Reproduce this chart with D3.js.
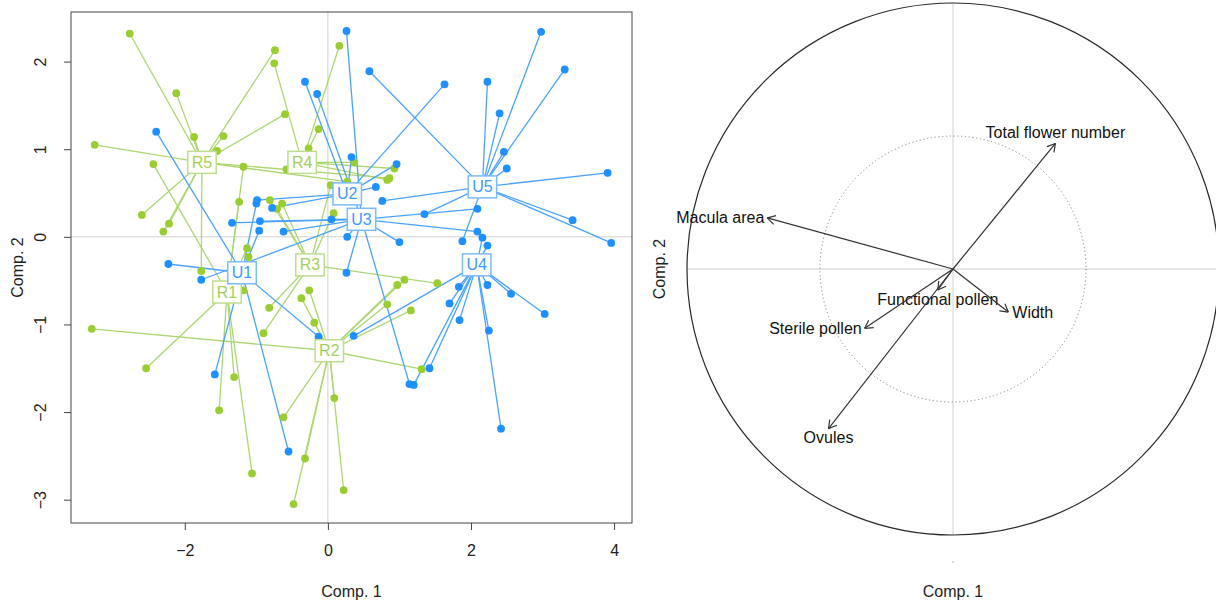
<!DOCTYPE html>
<html><head><meta charset="utf-8">
<script src="https://cdn.jsdelivr.net/npm/d3@7"></script>
<style>body{margin:0;background:#fff}svg{display:block;font-family:"Liberation Sans",Arial,sans-serif}</style>
</head><body><svg id="c" width="1216" height="605"></svg>
<script>
// ---- Left panel: individual scores by group ----
const groups = ["U1","U2","U3","U4","U5","R1","R2","R3","R4","R5"];
const groupType = ["U","U","U","U","U","R","R","R","R","R"];
const centroidX = [-1.20, 0.27, 0.47, 2.08, 2.16, -1.41, 0.02, -0.25, -0.36, -1.76];
const centroidY = [-0.41, 0.49, 0.20, -0.32, 0.57, -0.63, -1.30, -0.32, 0.85, 0.85];

const U1x = [-2.40,-2.23,-1.58,-0.55,-0.13,-1.00,-0.96];
const U1y = [1.20,-0.31,-1.57,-2.45,-1.14,0.38,0.07];
const U2x = [-0.32,1.63,-0.99,-0.78,0.67,0.33,0.96];
const U2y = [1.77,1.74,0.42,0.33,0.57,0.91,0.83];
const U3x = [0.26,-1.34,-1.77,-0.95,0.05,0.27,0.26,1.00,1.14,2.09,2.09,-0.62,-0.15];
const U3y = [2.35,0.16,-0.49,0.18,0.20,0.00,-0.41,-0.06,-1.68,0.32,0.06,0.06,1.63];
const U4x = [2.23,2.56,3.03,1.83,1.70,1.84,2.25,2.42,2.16,2.23,1.42,1.20,0.36];
const U4y = [-0.55,-0.65,-0.88,-0.57,-0.76,-0.95,-1.07,-2.19,-0.01,-0.10,-1.50,-1.69,-1.13];
const U5x = [0.58,2.23,2.98,3.31,2.40,2.46,2.50,3.91,3.42,3.96,1.88,0.76,1.35];
const U5y = [1.89,1.77,2.34,1.91,1.41,0.97,0.78,0.73,0.19,-0.07,-0.05,0.41,0.26];
const R1x = [-2.54,-1.31,-1.52,-1.06,-2.44,-1.18,-1.24,-1.13,-1.11,-1.18];
const R1y = [-1.50,-1.60,-1.98,-2.70,0.83,0.80,0.40,-0.13,-0.23,-0.61];
const R2x = [-3.30,-0.48,0.22,-0.32,-0.62,0.09,1.31,1.16,0.83,1.07,0.97,-0.26,-0.37,-0.19];
const R2y = [-1.05,-3.05,-2.89,-2.53,-2.06,-1.84,-1.51,-0.84,-0.77,-0.49,-0.55,-0.61,-0.70,-0.98];
const R3x = [1.53,0.08,-0.64,-0.71,-0.81,-0.82,-0.90,0.04];
const R3y = [-0.53,0.27,0.38,0.32,0.42,-0.81,-1.10,0.59];
const R4x = [-0.75,0.16,-0.13,-0.27,0.37,0.93,-0.58,0.83];
const R4y = [1.98,2.18,1.23,1.01,0.85,0.78,0.77,0.65];
const R5x = [-2.77,-2.12,-3.26,-1.87,-1.46,-1.55,-0.74,-0.60,-2.60,-2.22,-2.30,-1.77,0.86,0.27];
const R5y = [2.32,1.64,1.05,1.14,1.15,0.98,2.13,1.40,0.25,0.15,0.06,-0.39,0.67,0.63];

const groupX = [U1x,U2x,U3x,U4x,U5x,R1x,R2x,R3x,R4x,R5x];
const groupY = [U1y,U2y,U3y,U4y,U5y,R1y,R2y,R3y,R4y,R5y];

const xTicks = [-2, 0, 2, 4];
const yTicks = [-3, -2, -1, 0, 1, 2];
const xTitle = "Comp. 1", yTitle = "Comp. 2";

// ---- Right panel: correlation circle ----
const variables = ["Total flower number","Macula area","Functional pollen","Width","Sterile pollen","Ovules"];
const varX = [0.385,-0.698,-0.057,0.208,-0.332,-0.468];
const varY = [0.472,0.192,-0.079,-0.162,-0.223,-0.600];
const varLabelPos = ["above","left","below","right","left","below"];

// ---- styling ----
const col = {
  U:{pt:"#1E90FF", line:"#4AA2FF", box:"#7DBBFF", text:"#3D9AFF"},
  R:{pt:"#9ACD32", line:"#ADD673", box:"#BEDD8F", text:"#A3D05C"}
};
const svg = d3.select("#c");
const L = {left:71, right:632, top:12, bottom:523};
const fmt = d => d<0 ? "\u2212"+Math.abs(d) : String(d);

// scales with R-style 4% padding
const allX = groupX.flat(), allY = groupY.flat();
const xe = d3.extent(allX), ye = d3.extent(allY);
const px = (xe[1]-xe[0])*0.04, py = (ye[1]-ye[0])*0.04;
const x = d3.scaleLinear().domain([xe[0]-px, xe[1]+px]).range([L.left, L.right]);
const y = d3.scaleLinear().domain([ye[0]-py, ye[1]+py]).range([L.bottom, L.top]);

const gL = svg.append("g");
gL.append("line").attr("x1",x(0)).attr("x2",x(0)).attr("y1",L.top).attr("y2",L.bottom).attr("stroke","#d0d0d0").attr("stroke-width",1);
gL.append("line").attr("x1",L.left).attr("x2",L.right).attr("y1",y(0)).attr("y2",y(0)).attr("stroke","#d0d0d0").attr("stroke-width",1);

const order = [5,6,7,8,9,0,1,2,3,4];
order.forEach(g=>{
  const c = col[groupType[g]];
  groupX[g].forEach((vx,i)=>{
    gL.append("line").attr("x1",x(centroidX[g])).attr("y1",y(centroidY[g]))
      .attr("x2",x(vx)).attr("y2",y(groupY[g][i]))
      .attr("stroke",c.line).attr("stroke-width",1.3);
  });
});
order.forEach(g=>{
  const c = col[groupType[g]];
  groupX[g].forEach((vx,i)=>{
    gL.append("circle").attr("cx",x(vx)).attr("cy",y(groupY[g][i])).attr("r",3.9).attr("fill",c.pt);
  });
});
order.forEach(g=>{
  const c = col[groupType[g]];
  const cx = x(centroidX[g]), cy = y(centroidY[g]);
  const t = gL.append("text").attr("x",cx).attr("y",cy).attr("text-anchor","middle")
    .attr("dominant-baseline","central").attr("font-size",16).attr("fill",c.text).text(groups[g]);
  const w = t.node().getComputedTextLength();
  gL.insert("rect", () => t.node()).attr("x",cx-w/2-4).attr("y",cy-11).attr("width",w+8).attr("height",22)
    .attr("fill","#fff").attr("stroke",c.box).attr("stroke-width",1.5);
});
gL.append("rect").attr("x",L.left).attr("y",L.top).attr("width",L.right-L.left).attr("height",L.bottom-L.top)
  .attr("fill","none").attr("stroke","#444").attr("stroke-width",1);

const xa = gL.append("g").attr("transform",`translate(0,${L.bottom})`)
  .call(d3.axisBottom(x).tickValues(xTicks).tickSize(7).tickPadding(15).tickFormat(fmt));
const ya = gL.append("g").attr("transform",`translate(${L.left},0)`)
  .call(d3.axisLeft(y).tickValues(yTicks).tickSize(7).tickFormat(fmt));
[xa,ya].forEach(a=>{a.select(".domain").remove();a.selectAll("line").attr("stroke","#444");
  a.selectAll("text").attr("font-size",16).attr("fill","#222").attr("font-family","Liberation Sans, Arial, sans-serif");});
ya.selectAll("text").each(function(){
  d3.select(this).attr("x",null).attr("dy",null).attr("text-anchor","middle")
    .attr("dominant-baseline","central").attr("transform","translate(-31,0) rotate(-90)");
});
gL.append("text").attr("x",(L.left+L.right)/2).attr("y",597).attr("text-anchor","middle").attr("font-size",16).attr("fill","#222").text(xTitle);
gL.append("text").attr("transform",`translate(23,${(L.top+L.bottom)/2}) rotate(-90)`).attr("text-anchor","middle").attr("font-size",16).attr("fill","#222").text(yTitle);

// ---- right panel ----
const C = {cx:953, cy:269, r:266};
const rs = d3.scaleLinear().domain([-1,1]).range([C.cx-C.r, C.cx+C.r]);
const rsy = d3.scaleLinear().domain([-1,1]).range([C.cy+C.r, C.cy-C.r]);
const gR = svg.append("g");
gR.append("line").attr("x1",rs(-1)).attr("x2",rs(1)).attr("y1",rsy(0)).attr("y2",rsy(0)).attr("stroke","#d0d0d0");
gR.append("line").attr("x1",rs(0)).attr("x2",rs(0)).attr("y1",rsy(1)).attr("y2",rsy(-1)).attr("stroke","#d0d0d0");
gR.append("circle").attr("cx",rs(0)).attr("cy",rsy(0)).attr("r",rs(0.5)-rs(0)).attr("fill","none")
  .attr("stroke","#888").attr("stroke-dasharray","1.2,2.6").attr("stroke-width",1);
gR.append("circle").attr("cx",rs(0)).attr("cy",rsy(0)).attr("r",C.r).attr("fill","none").attr("stroke","#2a2a2a").attr("stroke-width",1.2);
gR.append("circle").attr("cx",rs(0)).attr("cy",562).attr("r",0.8).attr("fill","#bbb");

variables.forEach((v,i)=>{
  const x0=rs(0), y0=rsy(0), x1=rs(varX[i]), y1=rsy(varY[i]);
  gR.append("line").attr("x1",x0).attr("y1",y0).attr("x2",x1).attr("y2",y1).attr("stroke","#333").attr("stroke-width",1.2);
  const ang = Math.atan2(y1-y0, x1-x0), hl = 9, ha = Math.PI/6;
  [ang+Math.PI-ha, ang+Math.PI+ha].forEach(a=>{
    gR.append("line").attr("x1",x1).attr("y1",y1).attr("x2",x1+hl*Math.cos(a)).attr("y2",y1+hl*Math.sin(a))
      .attr("stroke","#333").attr("stroke-width",1.2);
  });
  const p = varLabelPos[i];
  let tx=x1, ty=y1, anchor="middle";
  if(p==="above"){ty=y1-11;}
  if(p==="below"){ty=y1+9;}
  if(p==="left"){tx=x1-3;anchor="end";}
  if(p==="right"){tx=x1+4;anchor="start";}
  gR.append("text").attr("x",tx).attr("y",ty).attr("text-anchor",anchor).attr("dominant-baseline","central")
    .attr("font-size",16).attr("fill","#111").text(v);
});
gR.append("text").attr("x",rs(0)).attr("y",597).attr("text-anchor","middle").attr("font-size",16).attr("fill","#222").text(xTitle);
gR.append("text").attr("transform",`translate(665,${rsy(0)}) rotate(-90)`).attr("text-anchor","middle").attr("font-size",16).attr("fill","#222").text(yTitle);
</script></body></html>
